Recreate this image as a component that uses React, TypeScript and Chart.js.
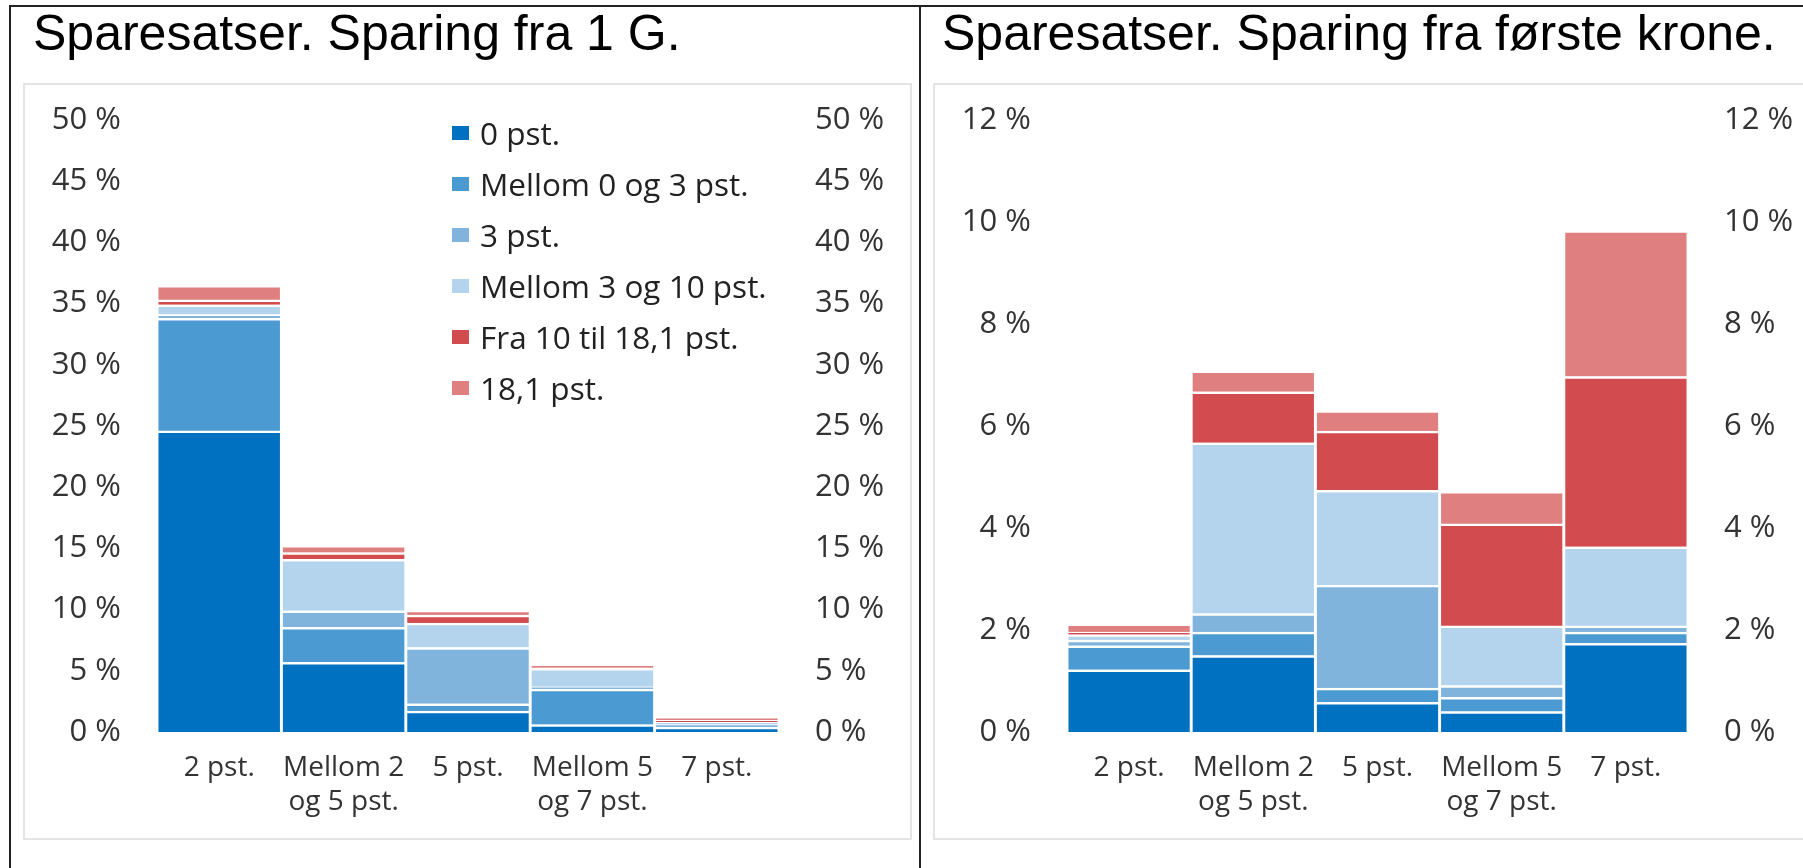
import React, { useEffect, useRef } from 'react';
import { Chart, registerables } from 'chart.js';

Chart.register(...registerables);

// ---------- data ----------
const categories: string[][] = [
  ['2 pst.'],
  ['Mellom 2', 'og 5 pst.'],
  ['5 pst.'],
  ['Mellom 5', 'og 7 pst.'],
  ['7 pst.'],
];

const seriesNames = [
  '0 pst.',
  'Mellom 0 og 3 pst.',
  '3 pst.',
  'Mellom 3 og 10 pst.',
  'Fra 10 til 18,1 pst.',
  '18,1 pst.',
];
const seriesColors = ['#0070C0', '#4B9AD2', '#80B4DC', '#B3D4EC', '#D24B4E', '#DF7F7F'];

// Left chart: Sparing fra 1 G (percent)
const g1_0pst = [24.6, 5.7, 1.7, 0.6, 0.4];
const g1_m0og3 = [9.2, 2.85, 0.6, 2.9, 0.1];
const g1_3pst = [0.3, 1.35, 4.6, 0.2, 0.1];
const g1_m3og10 = [0.8, 4.2, 2.0, 1.5, 0.2];
const g1_fra10 = [0.4, 0.55, 0.65, 0.05, 0.15];
const g1_181 = [1.2, 0.6, 0.4, 0.25, 0.25];

// Right chart: Sparing fra første krone (percent)
const fk_0pst = [1.22, 1.5, 0.58, 0.4, 1.74];
const fk_m0og3 = [0.47, 0.46, 0.28, 0.28, 0.22];
const fk_3pst = [0.11, 0.36, 2.02, 0.23, 0.12];
const fk_m3og10 = [0.11, 3.35, 1.86, 1.17, 1.55];
const fk_fra10 = [0.05, 1.0, 1.16, 2.0, 3.34];
const fk_181 = [0.16, 0.41, 0.4, 0.64, 2.86];

const leftTickValues = [0, 5, 10, 15, 20, 25, 30, 35, 40, 45, 50];
const rightTickValues = [0, 2, 4, 6, 8, 10, 12];

const leftTitle = 'Sparesatser. Sparing fra 1 G.';
const rightTitle = 'Sparesatser. Sparing fra første krone.';

// ---------- chart ----------
type ChartProps = {
  series: number[][];
  tickValues: number[];
  left: number;
  top: number;
  width: number;
  height: number;
  yLeftWidth: number;
  yRightWidth: number;
  xHeight: number;
  padTop: number;
};

const tickColor = '#333333';
const yTickFont = { family: "'Open Sans', sans-serif", size: 31 };
const xTickFont = { family: "'Open Sans', sans-serif", size: 28, lineHeight: 34 / 28 };

function StackedChart(props: ChartProps) {
  const ref = useRef<HTMLCanvasElement>(null);
  useEffect(() => {
    const { series, tickValues } = props;
    const max = tickValues[tickValues.length - 1];
    const min = tickValues[0];
    const yCommon = (pos: 'left' | 'right', w: number) => ({
      position: pos,
      min,
      max,
      grid: { display: false, drawTicks: false },
      border: { display: false },
      afterBuildTicks: (s: any) => {
        s.ticks = tickValues.map((v) => ({ value: v }));
      },
      ticks: {
        callback: (v: any) => `${v} %`,
        color: tickColor,
        font: yTickFont,
        padding: 36,
      },
      afterFit: (s: any) => {
        s.width = w;
      },
    });
    const chart = new Chart(ref.current as HTMLCanvasElement, {
      type: 'bar',
      data: {
        labels: categories,
        datasets: series.map((d, i) => ({
          label: seriesNames[i],
          data: d,
          backgroundColor: seriesColors[i],
          borderColor: '#ffffff',
          borderWidth: { top: 2.5, left: 1.8, right: 1.8, bottom: 0 },
          borderSkipped: false,
          barPercentage: 1,
          categoryPercentage: 1,
        })),
      },
      options: {
        responsive: false,
        maintainAspectRatio: false,
        animation: false,
        layout: { padding: { top: props.padTop, left: 0, right: 0, bottom: 0 } },
        plugins: {
          legend: { display: false },
          tooltip: { enabled: false },
          title: { display: false },
        },
        scales: {
          x: {
            stacked: true,
            grid: { display: false, drawTicks: false },
            border: { display: false },
            ticks: {
              color: tickColor,
              font: xTickFont,
              padding: 19,
              maxRotation: 0,
              autoSkip: false,
            },
            afterFit: (s: any) => {
              s.height = props.xHeight;
            },
          },
          y: { stacked: true, ...yCommon('left', props.yLeftWidth) },
          y2: yCommon('right', props.yRightWidth),
        },
      } as any,
    });
    return () => chart.destroy();
  }, []);
  return (
    <canvas
      ref={ref}
      width={props.width}
      height={props.height}
      style={{ position: 'absolute', left: props.left, top: props.top, width: props.width, height: props.height }}
    />
  );
}

function Legend({ left, top }: { left: number; top: number }) {
  return (
    <div style={{ position: 'absolute', left, top }}>
      {seriesNames.map((n, i) => (
        <div key={n} style={{ display: 'flex', alignItems: 'center', height: 51 }}>
          <div style={{ width: 17, height: 14, background: seriesColors[i], marginRight: 11 }} />
          <span
            style={{
              fontFamily: "'Open Sans', sans-serif",
              fontSize: 31.5,
              lineHeight: 1,
              color: '#222',
              whiteSpace: 'nowrap',
            }}
          >
            {n}
          </span>
        </div>
      ))}
    </div>
  );
}

function Title({ text, left }: { text: string; left: number }) {
  return (
    <div
      style={{
        position: 'absolute',
        left,
        top: 8,
        fontFamily: "'Liberation Sans', Arial, sans-serif",
        fontSize: 50,
        lineHeight: 1,
        color: '#000',
        whiteSpace: 'nowrap',
      }}
    >
      {text}
    </div>
  );
}

export default function App() {
  // chart area: top at page y=120, bottom at 732; padTop fixes the area top inside the canvas
  const padTop = 62;
  const canvasTop = 120 - padTop;
  const canvasHeight = padTop + 612 + 106;
  return (
    <div
      style={{
        position: 'fixed',
        left: 0,
        top: 0,
        width: 1803,
        height: 868,
        background: '#fff',
        overflow: 'hidden',
      }}
    >
      {/* black outer lines */}
      <div style={{ position: 'absolute', left: 9, top: 5, width: 1800, height: 2, background: '#222' }} />
      <div style={{ position: 'absolute', left: 9, top: 5, width: 2, height: 870, background: '#222' }} />
      <div style={{ position: 'absolute', left: 919, top: 5, width: 2, height: 870, background: '#222' }} />

      {/* gray chart frames */}
      <div
        style={{
          position: 'absolute',
          left: 23,
          top: 83,
          width: 889,
          height: 757,
          boxSizing: 'border-box',
          border: '2px solid #e4e4e4',
        }}
      />
      <div
        style={{
          position: 'absolute',
          left: 933,
          top: 83,
          width: 900,
          height: 757,
          boxSizing: 'border-box',
          border: '2px solid #e4e4e4',
        }}
      />

      <Title text={leftTitle} left={33} />
      <Title text={rightTitle} left={942} />

      <StackedChart
        series={[g1_0pst, g1_m0og3, g1_3pst, g1_m3og10, g1_fra10, g1_181]}
        tickValues={leftTickValues}
        left={25}
        top={canvasTop}
        width={885}
        height={canvasHeight}
        yLeftWidth={132}
        yRightWidth={131}
        xHeight={106}
        padTop={padTop}
      />
      <StackedChart
        series={[fk_0pst, fk_m0og3, fk_3pst, fk_m3og10, fk_fra10, fk_181]}
        tickValues={rightTickValues}
        left={935}
        top={canvasTop}
        width={868}
        height={canvasHeight}
        yLeftWidth={132}
        yRightWidth={115}
        xHeight={106}
        padTop={padTop}
      />
      <Legend left={452} top={107} />
    </div>
  );
}
